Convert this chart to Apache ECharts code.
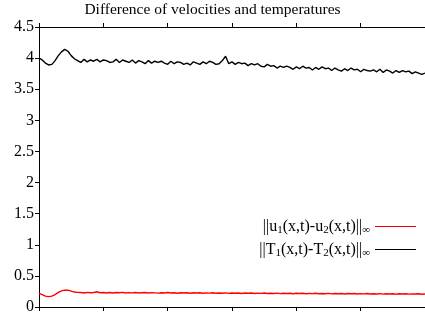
<!DOCTYPE html>
<html>
<head>
<meta charset="utf-8">
<script src="https://cdn.jsdelivr.net/npm/echarts@6/dist/echarts.min.js"></script>
<style>html,body{margin:0;padding:0;background:#fff;}#c{width:425px;height:316px;}</style>
</head>
<body>
<div id="c"></div>
<script>
const titleText = 'Difference of velocities and temperatures';
const xStep = 0.05;
const yTicks = [0, 0.5, 1, 1.5, 2, 2.5, 3, 3.5, 4, 4.5];
const seriesNames = ['u', 'T'];
const tempDiff = [
4.00,3.97,3.92,3.89,3.90,3.96,4.04,4.10,4.14,4.11,
4.04,3.99,3.96,3.93,3.98,3.94,3.97,3.95,3.98,3.94,
3.97,3.96,3.93,3.94,3.98,3.93,3.97,3.95,3.93,3.97,
3.92,3.96,3.94,3.91,3.96,3.92,3.95,3.93,3.95,3.92,
3.90,3.95,3.91,3.94,3.93,3.90,3.92,3.89,3.94,3.92,
3.90,3.94,3.91,3.95,3.93,3.90,3.91,3.96,4.03,3.91,
3.94,3.90,3.93,3.91,3.92,3.88,3.91,3.89,3.91,3.87,
3.86,3.90,3.87,3.88,3.84,3.87,3.85,3.87,3.85,3.82,
3.86,3.83,3.87,3.84,3.85,3.81,3.85,3.82,3.86,3.83,
3.84,3.80,3.84,3.81,3.79,3.83,3.80,3.84,3.81,3.82,
3.78,3.82,3.80,3.79,3.81,3.78,3.82,3.77,3.81,3.79,
3.76,3.80,3.77,3.80,3.78,3.79,3.75,3.78,3.76,3.74,
3.76
];
const velDiff = [
0.220,0.200,0.175,0.167,0.175,0.200,0.235,0.260,0.272,0.270,
0.255,0.240,0.235,0.232,0.226,0.235,0.228,0.233,0.245,0.229,
0.234,0.226,0.232,0.225,0.233,0.228,0.235,0.225,0.231,0.227,
0.233,0.225,0.230,0.232,0.224,0.231,0.227,0.223,0.230,0.226,
0.232,0.224,0.229,0.222,0.230,0.225,0.229,0.221,0.228,0.224,
0.229,0.220,0.227,0.223,0.228,0.220,0.226,0.222,0.227,0.219,
0.225,0.221,0.226,0.218,0.224,0.220,0.225,0.217,0.223,0.219,
0.224,0.216,0.222,0.218,0.223,0.215,0.221,0.217,0.222,0.214,
0.220,0.216,0.221,0.213,0.219,0.215,0.220,0.212,0.218,0.214,
0.219,0.211,0.217,0.213,0.218,0.210,0.216,0.212,0.217,0.209,
0.215,0.211,0.216,0.208,0.214,0.210,0.215,0.207,0.213,0.209,
0.214,0.206,0.212,0.208,0.213,0.207,0.211,0.208,0.212,0.206,
0.209
];
const toPairs = arr => arr.map((v, i) => [+(i * xStep).toFixed(2), v]);

const font = 'Liberation Serif, Times New Roman, serif';
const chart = echarts.init(document.getElementById('c'), null, {renderer: 'canvas'});
const axisCommon = {
  type: 'value', min: 0, max: 6, interval: 1,
  axisLine: {show: true, lineStyle: {color: '#000', width: 1}},
  axisTick: {show: true, length: 4, lineStyle: {color: '#000'}},
  axisLabel: {show: false},
  splitLine: {show: false}
};
chart.setOption({
  animation: false,
  backgroundColor: '#fff',
  title: {
    text: titleText, left: 'center', top: -3,
    textStyle: {fontFamily: font, fontSize: 15.5, fontWeight: 'normal', color: '#000'}
  },
  grid: {left: 39, top: 27, width: 392, height: 280},
  xAxis: [
    Object.assign({position: 'bottom'}, axisCommon),
    Object.assign({position: 'top'}, axisCommon)
  ],
  yAxis: {
    type: 'value', min: yTicks[0], max: yTicks[yTicks.length - 1], interval: 0.5,
    axisLine: {show: true, lineStyle: {color: '#000', width: 1}},
    axisTick: {show: true, length: 4, lineStyle: {color: '#000'}},
    axisLabel: {color: '#000', fontFamily: font, fontSize: 16, margin: 5},
    splitLine: {show: false}
  },
  legend: {
    orient: 'vertical', right: 4, top: 212, align: 'right',
    icon: 'rect', itemWidth: 41, itemHeight: 1, itemGap: 4,
    data: seriesNames,
    formatter: function (name) {
      return name === 'u'
        ? '||u{s|1}(x,t)-u{s|2}(x,t)||{s|∞}'
        : '||T{s|1}(x,t)-T{s|2}(x,t)||{s|∞}';
    },
    textStyle: {
      fontFamily: font, fontSize: 16, color: '#000', lineHeight: 19,
      rich: {s: {fontFamily: font, fontSize: 11, color: '#000', verticalAlign: 'bottom', lineHeight: 12, padding: [7, 0, 0, 0]}}
    }
  },
  series: [
    {name: 'u', type: 'line', data: toPairs(velDiff), symbol: 'none', lineStyle: {color: '#ff0000', width: 1.4}, itemStyle: {color: '#ff0000'}},
    {name: 'T', type: 'line', data: toPairs(tempDiff), symbol: 'none', lineStyle: {color: '#000000', width: 1.4}, itemStyle: {color: '#000000'}}
  ]
});
</script>
</body>
</html>
